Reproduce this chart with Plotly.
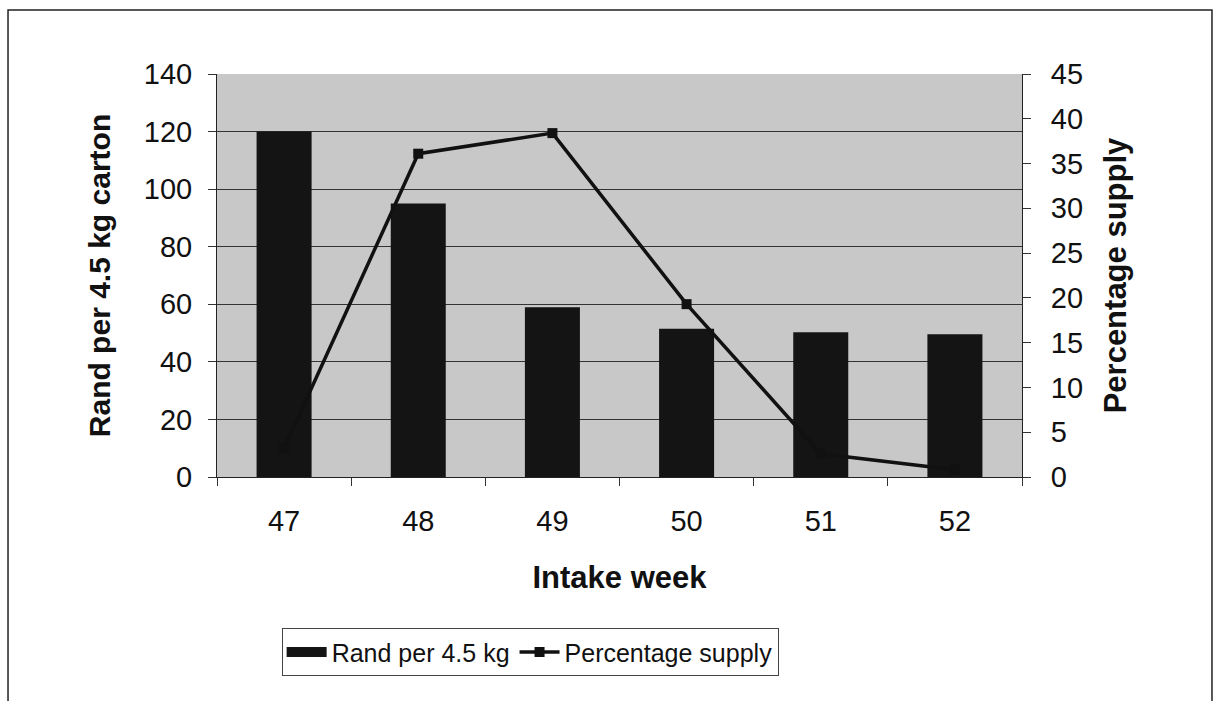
import plotly.graph_objects as go

# Weekly intake data
weeks = ["47", "48", "49", "50", "51", "52"]
rand_per_carton = [120, 95, 59, 51.5, 50.3, 49.6]
percentage_supply = [3.2, 36.1, 38.4, 19.3, 2.6, 0.8]

left_ticks = [0, 20, 40, 60, 80, 100, 120, 140]
right_ticks = [0, 5, 10, 15, 20, 25, 30, 35, 40, 45]

FONT = "Liberation Sans, Arial, sans-serif"
BAR_COLOR = "#141414"

fig = go.Figure()

fig.add_trace(go.Bar(
    x=weeks, y=rand_per_carton, name="Rand per 4.5 kg",
    marker=dict(color=BAR_COLOR, line=dict(width=0)),
    yaxis="y", showlegend=False, legendgroup="rand",
))

# Legend entry for the bars, drawn as a wide filled block
fig.add_trace(go.Scatter(
    x=[None], y=[None], name="Rand per 4.5 kg", mode="lines",
    line=dict(color=BAR_COLOR, width=17), legendgroup="rand",
))

fig.add_trace(go.Scatter(
    x=weeks, y=percentage_supply, name="Percentage supply",
    mode="lines+markers",
    line=dict(color="#111111", width=3.5),
    marker=dict(symbol="square", size=10, color="#111111"),
    yaxis="y2",
))

# Outer chart frame
fig.add_shape(type="rect", xref="paper", yref="paper",
              x0=-0.2596, x1=1.236, y0=-0.57, y1=1.159,
              line=dict(color="#222222", width=1.5), layer="below")

fig.update_layout(
    width=1213, height=701,
    margin=dict(l=217, r=191, t=74, b=224),
    paper_bgcolor="white",
    plot_bgcolor="#c8c8c8",
    font=dict(family=FONT, color="#111111", size=29),
    bargap=0.59,
    showlegend=True,
    legend=dict(
        orientation="h", x=0.389, xanchor="center", y=-0.375, yanchor="top",
        bordercolor="#444444", borderwidth=1, bgcolor="white",
        font=dict(family=FONT, size=25, color="#111111"),
        itemwidth=40, tracegroupgap=0,
    ),
    xaxis=dict(
        type="category",
        tickson="boundaries",
        ticks="outside", ticklen=8, tickcolor="#333333",
        showline=True, linecolor="#222222", linewidth=1,
        showgrid=False,
        tickfont=dict(size=29),
        ticklabelstandoff=18,
        title=dict(text="<b>Intake week</b>", font=dict(size=31), standoff=30),
    ),
    yaxis=dict(
        range=[0, 140], tickvals=left_ticks,
        ticks="outside", ticklen=8, tickcolor="#333333",
        showline=True, linecolor="#222222", linewidth=1,
        showgrid=True, gridcolor="#333333", gridwidth=1,
        zeroline=False,
        tickfont=dict(size=29),
        ticklabelstandoff=10,
        title=dict(text="<b>Rand per 4.5 kg carton</b>", font=dict(size=30), standoff=24),
    ),
    yaxis2=dict(
        range=[0, 45], tickvals=right_ticks,
        overlaying="y", side="right",
        ticks="outside", ticklen=8, tickcolor="#333333",
        showline=True, linecolor="#222222", linewidth=1,
        showgrid=False, zeroline=False,
        tickfont=dict(size=29),
        ticklabelstandoff=14,
        title=dict(text="<b>Percentage supply</b>", font=dict(size=31), standoff=22),
    ),
)

fig.write_html("out.html")
